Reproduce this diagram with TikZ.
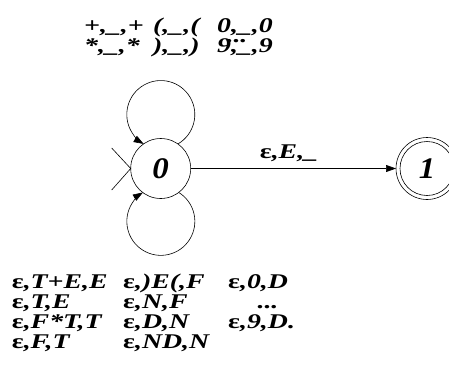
\documentclass[tikz,border=0pt]{standalone}
\usepackage{fontspec}
\setmainfont{Liberation Serif}
\newfontfamily\widefont[FakeStretch=1.33]{Liberation Serif}
\newfontfamily\statefont[FakeStretch=1.1]{Liberation Serif}
\usetikzlibrary{arrows.meta}
\newcommand{\eps}{\textup{ε}}
\tikzset{
  state/.style={circle, draw, line width=0.6bp, minimum size=60bp, inner sep=0pt, outer sep=0pt,
    font=\statefont\fontsize{30}{30}\selectfont\bfseries\itshape},
  lbl/.style={inner sep=0pt, anchor=base west, font=\widefont\fontsize{21}{21}\selectfont\bfseries\itshape},
  dots/.style={lbl, anchor=base, text height=3bp, text depth=0pt},
  conn/.style={line width=0.6bp, -{Triangle[length=10bp,width=7bp]}},
  plain/.style={line width=0.6bp}
}
\begin{document}
\begin{tikzpicture}[x=1bp,y=1bp]
\useasboundingbox (0,0) rectangle (449,383);
% states
\node[state] (s0) at (160.7,214.5) {0};
\node[state, minimum size=54bp] (s1) at (427,214.5) {1};
\node[circle, draw, line width=0.6bp, minimum size=62bp, inner sep=0pt, outer sep=0pt] (s1o) at (427,214.5) {};
% initial marker
\coordinate (i1) at (111.7,235);
\coordinate (i2) at (111.7,193);
\draw[plain] (i1) -- (s0.west) -- (i2);
% loops
\draw[conn] (s0.55.2) arc[start angle=-59.8, end angle=239.8, radius=34];
\draw[conn] (s0.-53.4) arc[start angle=58.2, end angle=-238.2, radius=34];
% edge
\draw[conn] (s0.east) -- (s1o.west);
\node[lbl, anchor=base] (e1) at (289,225) {\eps,E,\_};
% top labels
\node[lbl] (t1) at (84,351) {+,\_,+};
\node[lbl] (t2) at (153,351) {(,\_,(};
\node[lbl] (t3) at (217,351) {0,\_,0};
\node[lbl] (t4) at (84,331) {*,\_,*};
\node[lbl] (t5) at (153,331) {),\_,)};
\node[lbl] (t6) at (217,331) {9,\_,9};
\node[dots] (t7) at (237,341) {...};
% bottom labels
\node[lbl] (b1) at (11.7,95) {\eps,T+E,E};
\node[lbl] (b2) at (11.7,75) {\eps,T,E};
\node[lbl] (b3) at (11.7,55) {\eps,F*T,T};
\node[lbl] (b4) at (11.7,35) {\eps,F,T};
\node[lbl] (c1) at (123,95) {\eps,)E(,F};
\node[lbl] (c2) at (123,75) {\eps,N,F};
\node[lbl] (c3) at (123,55) {\eps,D,N};
\node[lbl] (c4) at (123,35) {\eps,ND,N};
\node[lbl] (d1) at (228,95) {\eps,0,D};
\node[dots] (d2) at (268,75) {...};
\node[lbl] (d3) at (228,55) {\eps,9,D.};
\end{tikzpicture}
\end{document}
